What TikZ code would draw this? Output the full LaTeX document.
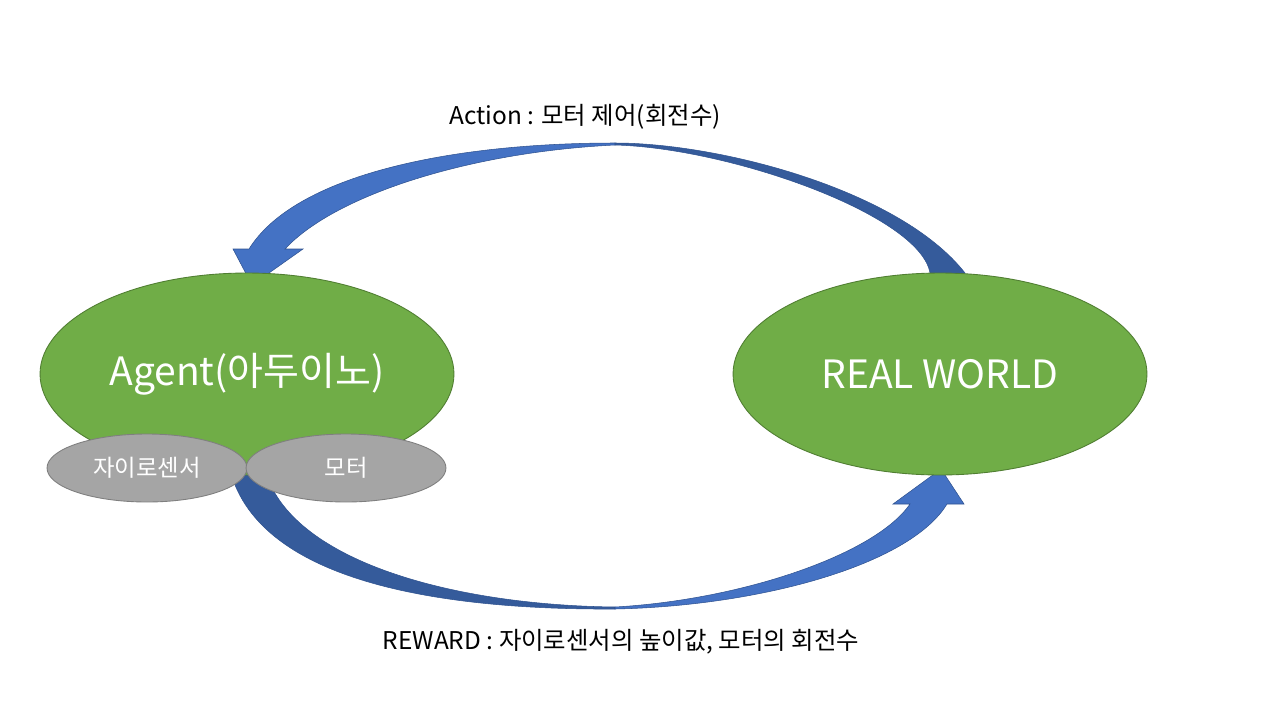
\documentclass[tikz,border=0pt]{standalone}
\usepackage{fontspec}
\setmainfont{Noto Sans CJK KR}
\usepackage{tikz}
\usetikzlibrary{shapes.geometric}
\definecolor{leafgreen}{HTML}{70AD47}
\definecolor{leafline}{HTML}{507E32}
\definecolor{partgrey}{HTML}{A5A5A5}
\definecolor{partline}{HTML}{7F7F7F}
\definecolor{flowlight}{HTML}{4472C4}
\definecolor{flowdark}{HTML}{355B9B}
\definecolor{flowedge}{HTML}{2F528F}
\tikzstyle{world} = [ellipse, minimum width=8.28cm, minimum height=4.04cm, inner sep=0pt, fill=leafgreen, draw=leafline, line width=0.5pt, text=white, font=\fontsize{22.2}{26}\selectfont]
\tikzstyle{part} = [ellipse, minimum width=4cm, minimum height=1.36cm, inner sep=0pt, fill=partgrey, draw=partline, line width=0.5pt, text=white, font=\fontsize{13.3}{16}\selectfont]
\tikzstyle{flowlit} = [fill=flowlight, draw=flowedge, line width=0.3pt]
\tikzstyle{flowshade} = [fill=flowdark, draw=flowedge, line width=0.3pt]
\tikzstyle{flowtext} = [font=\fontsize{13.9}{17}\selectfont, text=black]

\begin{document}
\begin{tikzpicture}[x=0.02cm, y=-0.02cm]
\useasboundingbox (0,0) rectangle (1280,720);

% action arrow (world -> agent)
\path[flowshade] (615,143) .. controls (720,143) and (900,190) .. (965,273) -- (967,285) -- (931,285) -- (930,273) .. controls (920,215) and (730,148) .. (615,145) -- cycle;
\path[flowlit] (615,143) .. controls (450,143) and (295,175) .. (249,249) -- (233,249) -- (252,285) -- (303,249) -- (285,249) .. controls (335,195) and (470,152) .. (615,145) -- cycle;

% reward arrow (agent -> world)
\path[flowshade] (230,470) .. controls (260,585) and (450,610) .. (615,609) -- (615,607) .. controls (450,605) and (290,560) .. (265,470) -- cycle;
\path[flowlit] (615,609) .. controls (760,606) and (910,565) .. (947,504) -- (964,504) -- (941,469) -- (893,504) -- (910,504) .. controls (875,555) and (740,600) .. (615,607) -- cycle;

\node[world] (agent) at (247,374) {Agent(아두이노)};
\node[world] (realworld) at (940,374) {REAL WORLD};
\node[part] (gyro) at (147,468) {자이로센서};
\node[part] (motor) at (346,468) {모터};

\node[flowtext] (action) at (585,117) {Action : 모터 제어(회전수)};
\node[flowtext] (reward) at (621,642) {REWARD : 자이로센서의 높이값, 모터의 회전수};
\end{tikzpicture}
\end{document}
